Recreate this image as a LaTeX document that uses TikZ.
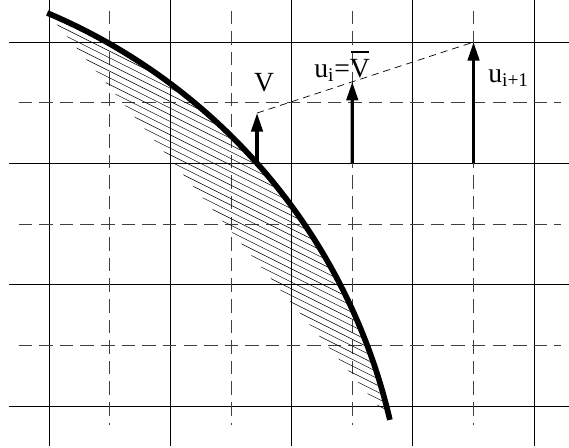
\documentclass[tikz,border=0pt]{standalone}
\usepackage{fontspec}
\setmainfont{Liberation Serif}
\usetikzlibrary{arrows.meta, calc}
\newcommand{\barV}{\ooalign{V\cr\hidewidth\rule[17pt]{0.62em}{1.5pt}\hidewidth\cr}}
\tikzset{
  gridmain/.style={line width=0.6pt, black},
  gridhalf/.style={line width=0.6pt, black!75, dash pattern=on 9.5pt off 5pt},
  front/.style={line width=4pt, black},
  hatchline/.style={line width=0.35pt, black},
  vec/.style={-{Triangle[length=13pt, width=8pt]}, line width=2.3pt},
  link/.style={line width=0.5pt, dash pattern=on 5pt off 3.5pt},
  lbl/.style={font=\fontsize{19.5}{22}\selectfont, inner sep=0pt, anchor=base}
}
\begin{document}
\begin{tikzpicture}[x=3cm, y=3cm]
  \useasboundingbox (-0.404,-0.346) rectangle (4.287,3.347);

  % grid
  \foreach \x in {0,...,4} \draw[gridmain] (\x,3.347) -- (\x,-0.33);
  \foreach \y in {0,...,3} \draw[gridmain] (-0.33,\y) -- (4.287,\y);
  \foreach \x in {0.5,1.5,2.5,3.5} \draw[gridhalf] (\x,3.26) -- (\x,-0.157);
  \foreach \y in {0.5,1.5,2.5} \draw[gridhalf] (-0.25,\y) -- (4.22,\y);

  % curved front and hatched region
  \coordinate (ctr) at (-1.894,-1.209);
  \coordinate (fs) at ($(ctr)+(67.1:4.83)$);
  \coordinate (fe) at ($(ctr)+(13.1:4.83)$);
  \begin{scope}
    \clip (fs) arc[start angle=67.1, end angle=13.1, radius=4.83] -- cycle;
    \foreach \i in {0,...,37}
      \draw[hatchline] (-0.1,{1.3+\i*0.055}) -- ++(3.1,-1.55);
  \end{scope}
  \draw[front] (fs) arc[start angle=67.1, end angle=13.1, radius=4.83];

  % vectors
  \coordinate (vfoot) at (1.715,2);
  \coordinate (vtip) at (1.715,2.415);
  \coordinate (rfoot) at (3.5,2);
  \coordinate (rtip) at (3.5,3);
  \coordinate (mfoot) at (2.5,2);
  \coordinate (mtip) at ($(vtip)!0.44!(rtip)$);
  \draw[link] (vtip) -- (rtip);
  \draw[vec] (vfoot) -- (vtip);
  \draw[vec] (mfoot) -- (mtip);
  \draw[vec] (rfoot) -- (rtip);

  \node[lbl] (vlab) at (1.773,2.589) {V};
  \node[lbl, anchor=base west] (ulab) at (2.185,2.712) {u\textsubscript{i}=\barV};
  \node[lbl, anchor=base west] (unext) at (3.619,2.67) {u\textsubscript{i+1}};
\end{tikzpicture}
\end{document}
